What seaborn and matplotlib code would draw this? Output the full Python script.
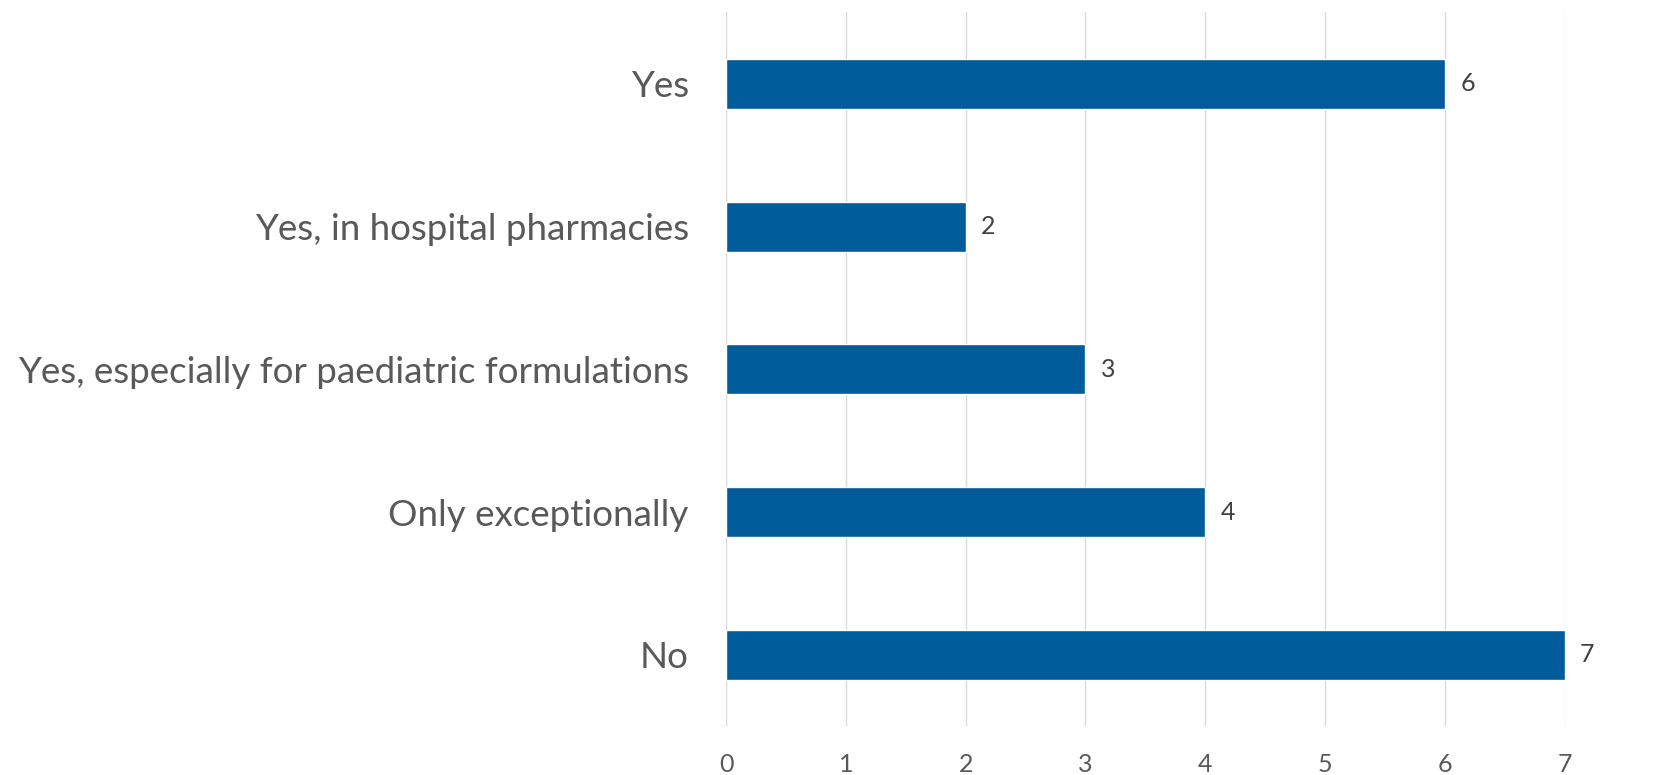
import matplotlib
matplotlib.use("Agg")
import matplotlib.pyplot as plt
import seaborn as sns
import pandas as pd

categories = ["Yes", "Yes, in hospital pharmacies",
              "Yes, especially for paediatric formulations",
              "Only exceptionally", "No"]
values = [6, 2, 3, 4, 7]
x_ticks = [0, 1, 2, 3, 4, 5, 6, 7]

sns.set_theme(style="white")
plt.rcParams["font.family"] = ["Lato", "DejaVu Sans"]

df = pd.DataFrame({"cat": categories, "val": values})

fig = plt.figure(figsize=(16.77, 7.75), dpi=100)
ax = fig.add_axes([0.433, 0.063, 0.5, 0.921])
sns.barplot(data=df, x="val", y="cat", orient="h", color="#005C9A",
            saturation=1, width=0.35, ax=ax, order=categories)
ax.set_xlim(0, 7)
ax.set_ylim(4.5, -0.5)
ax.set_xticks(x_ticks)
ax.xaxis.grid(True, color="#D9D9D9", linewidth=1)
ax.set_axisbelow(True)
for s in ax.spines.values():
    s.set_visible(False)
ax.set_xlabel("")
ax.set_ylabel("")
ax.tick_params(axis="y", length=0, pad=27, labelsize=26.5, labelcolor="#595959")
ax.tick_params(axis="x", length=0, pad=19, labelsize=18, labelcolor="#595959")
for c in ax.containers:
    ax.bar_label(c, padding=11, fontsize=18, color="#404040")

fig.savefig("out.png", dpi=100)
